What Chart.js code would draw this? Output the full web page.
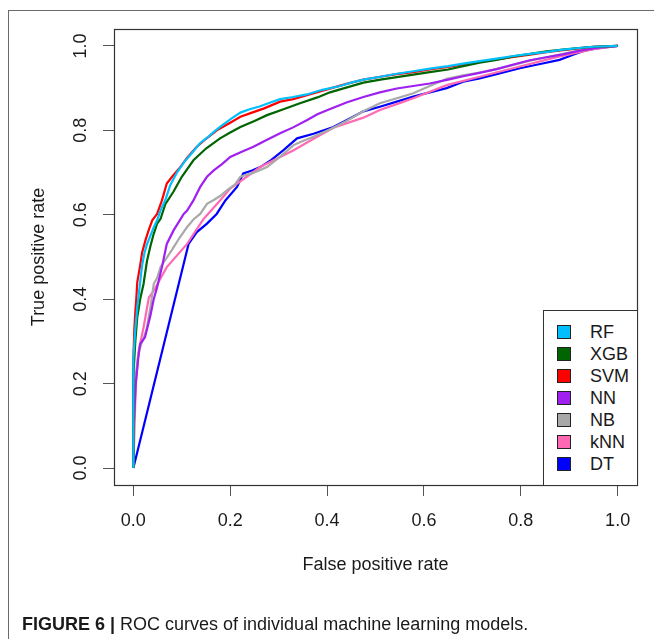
<!doctype html>
<html lang="en">
<head>
<meta charset="utf-8">
<title>ROC curves</title>
<style>
  body { margin: 0; background: #fff; }
  #wrap { position: relative; width: 654px; height: 639px; overflow: hidden; font-family: "Liberation Sans", Arial, sans-serif; color: #1a1a1a; }
  #roc { position: absolute; left: 0; top: 0; }
  .rule-top { position: absolute; left: 8px; top: 10px; width: 646px; border-top: 1px solid #6a6a6a; }
  .rule-left { position: absolute; left: 8px; top: 10px; height: 629px; border-left: 1px solid #6a6a6a; }
  #legend { position: absolute; left: 543px; top: 310px; width: 93px; height: 174px; border: 1px solid #333; background: #fff; box-sizing: content-box; }
  #legend .item { position: absolute; left: 0; height: 22px; line-height: 22px; font-size: 18px; }
  #legend .sw { position: absolute; left: 13px; top: 4px; width: 12px; height: 12px; border: 1px solid #222; }
  #legend .lab { position: absolute; left: 46px; top: 0; white-space: nowrap; }
  #caption { position: absolute; left: 22px; top: 613px; font-size: 18px; line-height: 22px; white-space: nowrap; }
  #caption b { font-weight: bold; }
</style>
</head>
<body>
<div id="wrap">
  <div class="rule-top"></div>
  <div class="rule-left"></div>
  <canvas id="roc" width="654" height="639"></canvas>
  <div id="legend"></div>
  <div id="caption"><b>FIGURE 6 |</b> ROC curves of individual machine learning models.</div>
</div>
<script src="https://cdn.jsdelivr.net/npm/chart.js"></script>
<script>
// [false positive rate, true positive rate] for each model
const rfRoc = [[0,0],[0,0.26],[0.004,0.33],[0.008,0.38],[0.011,0.41],[0.015,0.45],[0.018,0.48],[0.023,0.51],[0.028,0.53],[0.035,0.55],[0.042,0.57],[0.05,0.59],[0.056,0.61],[0.066,0.635],[0.076,0.67],[0.09,0.7],[0.105,0.725],[0.12,0.745],[0.138,0.77],[0.155,0.785],[0.168,0.798],[0.179,0.808],[0.2,0.826],[0.221,0.842],[0.24,0.85],[0.262,0.857],[0.283,0.866],[0.303,0.874],[0.33,0.879],[0.358,0.885],[0.39,0.896],[0.427,0.905],[0.45,0.913],[0.475,0.92],[0.51,0.927],[0.544,0.934],[0.578,0.94],[0.612,0.946],[0.65,0.952],[0.681,0.958],[0.715,0.964],[0.75,0.97],[0.785,0.976],[0.819,0.981],[0.855,0.986],[0.887,0.991],[0.92,0.995],[0.95,0.998],[1,1]];
const xgbRoc = [[0,0],[0,0.22],[0.004,0.3],[0.008,0.357],[0.014,0.4],[0.021,0.436],[0.028,0.49],[0.035,0.525],[0.042,0.555],[0.049,0.579],[0.056,0.59],[0.066,0.625],[0.083,0.655],[0.1,0.69],[0.124,0.729],[0.15,0.757],[0.179,0.781],[0.2,0.795],[0.221,0.808],[0.25,0.822],[0.276,0.836],[0.31,0.85],[0.344,0.864],[0.38,0.878],[0.406,0.89],[0.427,0.897],[0.475,0.913],[0.51,0.92],[0.544,0.926],[0.578,0.932],[0.612,0.938],[0.65,0.944],[0.681,0.952],[0.715,0.96],[0.75,0.967],[0.785,0.975],[0.82,0.981],[0.853,0.987],[0.887,0.991],[0.92,0.995],[0.95,0.998],[1,1]];
const svmRoc = [[0,0],[0,0.26],[0.002,0.33],[0.004,0.37],[0.006,0.4],[0.008,0.44],[0.011,0.46],[0.014,0.48],[0.018,0.51],[0.025,0.54],[0.032,0.565],[0.039,0.587],[0.049,0.602],[0.059,0.634],[0.069,0.674],[0.08,0.69],[0.095,0.71],[0.111,0.735],[0.13,0.76],[0.15,0.78],[0.175,0.802],[0.2,0.818],[0.221,0.832],[0.245,0.842],[0.27,0.852],[0.303,0.868],[0.33,0.874],[0.36,0.884],[0.4,0.897],[0.44,0.91],[0.475,0.92],[0.51,0.927],[0.544,0.933],[0.578,0.938],[0.612,0.944],[0.65,0.95],[0.681,0.956],[0.715,0.962],[0.75,0.968],[0.785,0.974],[0.819,0.979],[0.853,0.985],[0.887,0.99],[0.92,0.994],[0.95,0.998],[1,1]];
const nnRoc = [[0,0],[0,0.08],[0.005,0.2],[0.01,0.26],[0.014,0.294],[0.024,0.31],[0.035,0.36],[0.042,0.4],[0.049,0.428],[0.059,0.476],[0.069,0.531],[0.083,0.563],[0.104,0.602],[0.111,0.61],[0.124,0.634],[0.138,0.666],[0.152,0.69],[0.166,0.705],[0.183,0.72],[0.2,0.737],[0.225,0.75],[0.248,0.761],[0.275,0.777],[0.303,0.793],[0.33,0.807],[0.358,0.824],[0.38,0.838],[0.405,0.85],[0.44,0.866],[0.475,0.879],[0.509,0.89],[0.544,0.899],[0.578,0.905],[0.612,0.911],[0.65,0.92],[0.681,0.928],[0.715,0.936],[0.75,0.945],[0.785,0.956],[0.819,0.966],[0.853,0.973],[0.887,0.98],[0.92,0.988],[0.956,0.995],[1,1]];
const nbRoc = [[0,0],[0,0.1],[0.005,0.22],[0.01,0.27],[0.014,0.286],[0.022,0.31],[0.028,0.333],[0.035,0.38],[0.042,0.436],[0.049,0.45],[0.056,0.476],[0.07,0.5],[0.083,0.523],[0.095,0.545],[0.111,0.571],[0.125,0.59],[0.138,0.602],[0.152,0.626],[0.166,0.635],[0.18,0.645],[0.193,0.658],[0.21,0.672],[0.221,0.69],[0.25,0.7],[0.276,0.713],[0.3,0.735],[0.331,0.765],[0.35,0.775],[0.372,0.785],[0.413,0.806],[0.44,0.822],[0.475,0.845],[0.509,0.864],[0.544,0.876],[0.578,0.888],[0.612,0.905],[0.647,0.922],[0.681,0.93],[0.715,0.937],[0.75,0.945],[0.785,0.955],[0.819,0.965],[0.853,0.973],[0.887,0.981],[0.92,0.989],[0.956,0.995],[1,1]];
const knnRoc = [[0,0],[0.005,0.2],[0.011,0.278],[0.021,0.333],[0.032,0.404],[0.042,0.42],[0.069,0.476],[0.111,0.531],[0.145,0.59],[0.179,0.634],[0.2,0.662],[0.262,0.713],[0.303,0.737],[0.331,0.753],[0.372,0.78],[0.413,0.806],[0.475,0.83],[0.509,0.848],[0.544,0.862],[0.578,0.876],[0.647,0.907],[0.715,0.927],[0.784,0.947],[0.88,0.975],[0.95,0.992],[1,1]];
const dtRoc = [[0,0],[0.114,0.531],[0.131,0.559],[0.152,0.579],[0.172,0.602],[0.19,0.634],[0.214,0.666],[0.227,0.698],[0.245,0.705],[0.262,0.713],[0.285,0.73],[0.31,0.753],[0.338,0.781],[0.372,0.792],[0.413,0.808],[0.44,0.824],[0.475,0.845],[0.509,0.856],[0.544,0.868],[0.578,0.88],[0.612,0.89],[0.647,0.9],[0.681,0.915],[0.715,0.923],[0.75,0.933],[0.798,0.947],[0.84,0.957],[0.88,0.967],[0.908,0.979],[0.93,0.988],[0.956,0.994],[1,1]];

const modelNames = ['RF', 'XGB', 'SVM', 'NN', 'NB', 'kNN', 'DT'];
const modelCurves = [rfRoc, xgbRoc, svmRoc, nnRoc, nbRoc, knnRoc, dtRoc];
const modelColors = ['#00bfff', '#006400', '#ff0000', '#a020f0', '#a9a9a9', '#ff69b4', '#0000ff'];
const rateTicks = [0, 0.2, 0.4, 0.6, 0.8, 1];

const font = { family: '"Liberation Sans", Arial, sans-serif', size: 18 };

// plot box around the chart area, like R's box()
const plotBox = {
  id: 'plotBox',
  afterDatasetsDraw(chart) {
    const a = chart.chartArea;
    const c = chart.ctx;
    c.save();
    c.strokeStyle = '#333';
    c.lineWidth = 1.2;
    c.strokeRect(Math.round(a.left) + 0.5, Math.round(a.top) + 0.5, Math.round(a.right - a.left), Math.round(a.bottom - a.top));
    c.restore();
  }
};

const axisCommon = {
  type: 'linear',
  min: -0.04,
  max: 1.04,
  afterBuildTicks: s => { s.ticks = rateTicks.map(v => ({ value: v })); },
  border: { display: false },
  grid: { drawOnChartArea: false, drawTicks: true, tickLength: 11, color: '#555', lineWidth: 1 }
};

new Chart(document.getElementById('roc'), {
  type: 'scatter',
  data: {
    datasets: modelNames.map((name, i) => ({
      label: name,
      data: modelCurves[i].map(p => ({ x: p[0], y: p[1] })),
      showLine: true,
      borderColor: modelColors[i],
      backgroundColor: modelColors[i],
      borderWidth: 2.2,
      pointRadius: 0,
      tension: 0
    }))
  },
  options: {
    responsive: false,
    animation: false,
    devicePixelRatio: 1,
    layout: { padding: { left: 0, top: 29, right: 17, bottom: 0 } },
    plugins: { legend: { display: false }, tooltip: { enabled: false } },
    scales: {
      x: {
        ...axisCommon,
        position: 'bottom',
        afterFit: s => { s.height = 154; },
        ticks: { color: '#1a1a1a', font, padding: 14, maxRotation: 0, callback: v => v.toFixed(1) },
        title: { display: true, text: 'False positive rate', color: '#1a1a1a', font, padding: { top: 0, bottom: 63 } }
      },
      y: {
        ...axisCommon,
        position: 'left',
        afterFit: s => { s.width = 114; },
        ticks: { color: '#1a1a1a', font, padding: 9, minRotation: 90, maxRotation: 90, crossAlign: 'center', callback: v => v.toFixed(1) },
        title: { display: true, text: 'True positive rate', color: '#1a1a1a', font, padding: { top: 28, bottom: 0 } }
      }
    }
  },
  plugins: [plotBox]
});

// legend box, bottom-right inside the plot
const legend = document.getElementById('legend');
modelNames.forEach((name, i) => {
  const item = document.createElement('div');
  item.className = 'item';
  item.style.top = (10 + i * 22) + 'px';
  item.innerHTML = '<span class="sw"></span><span class="lab"></span>';
  item.querySelector('.sw').style.background = modelColors[i];
  item.querySelector('.lab').textContent = name;
  legend.appendChild(item);
});
</script>
</body>
</html>
